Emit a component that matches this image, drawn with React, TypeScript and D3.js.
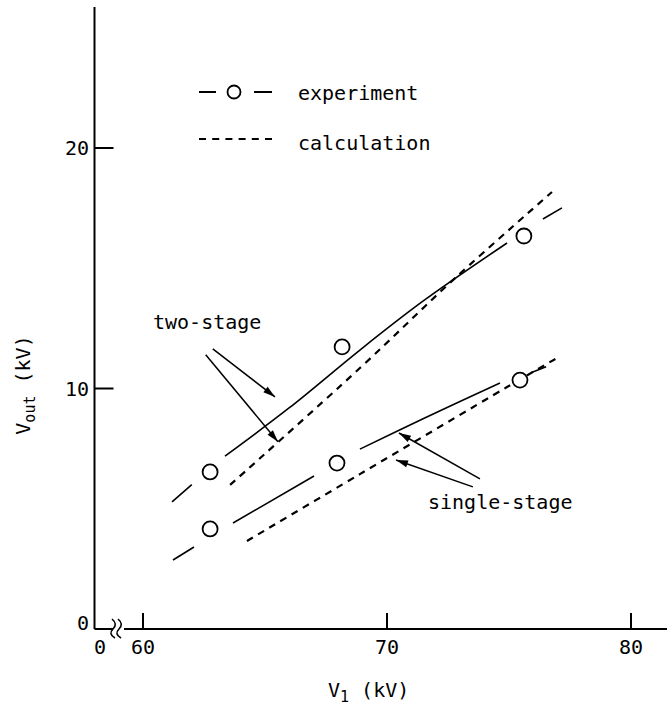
import React from "react";
import * as d3 from "d3";

// ---- data ----
const X_TICKS = [60, 70, 80];
const Y_TICKS = [0, 10, 20];
const X_ORIGIN_LABEL = "0";

// experiment points [V1 kV, Vout kV]
const TWO_STAGE_EXP: [number, number][] = [
  [62.75, 6.53],
  [68.16, 11.73],
  [75.61, 16.34],
];
const SINGLE_STAGE_EXP: [number, number][] = [
  [62.75, 4.16],
  [67.95, 6.9],
  [75.45, 10.35],
];

// experiment fit curves (drawn in pieces, broken around the circles)
const TWO_STAGE_FIT: [number, number][][] = [
  [[61.19, 5.29], [62.0, 6.0]],
  [[63.36, 7.19], [66.0, 9.2], [68.89, 11.6], [71.5, 13.65], [74.92, 16.05]],
  [[76.39, 17.05], [77.17, 17.51]],
];
const SINGLE_STAGE_FIT: [number, number][][] = [
  [[61.23, 2.87], [62.09, 3.41]],
  [[63.69, 4.41], [67.01, 6.36]],
  [[68.89, 7.48], [71.5, 8.75], [74.63, 10.23]],
  [[75.9, 10.65], [76.52, 10.9]],
];

// calculation curves
const TWO_STAGE_CALC: [number, number][] = [
  [63.57, 5.99],
  [68.89, 10.85],
  [72.79, 14.59],
  [76.76, 18.17],
];
const SINGLE_STAGE_CALC: [number, number][] = [
  [64.26, 3.66],
  [68.89, 6.44],
  [74.92, 10.06],
  [76.97, 11.27],
];

// annotation arrows: [from, to] in data units
const TWO_STAGE_ARROWS: [[number, number], [number, number]][] = [
  [[62.86, 11.65], [65.41, 9.65]],
  [[62.57, 11.4], [65.53, 7.79]],
];
const SINGLE_STAGE_ARROWS: [[number, number], [number, number]][] = [
  [[73.81, 6.24], [70.49, 8.15]],
  [[73.52, 5.91], [70.37, 7.03]],
];

const FONT = "'DejaVu Sans Mono', monospace";

export default function App() {
  const W = 667;
  const H = 709;
  const x = d3.scaleLinear().domain([60, 80]).range([143, 631]);
  const y = d3.scaleLinear().domain([0, 20]).range([629, 148]);
  const axisX = 94.5;
  const axisY = y(0);

  const line = d3
    .line<[number, number]>()
    .x((d) => x(d[0]))
    .y((d) => y(d[1]))
    .curve(d3.curveCatmullRom.alpha(0.5));

  const arrow = (a: [[number, number], [number, number]], i: number) => {
    const x1 = x(a[0][0]);
    const y1 = y(a[0][1]);
    const x2 = x(a[1][0]);
    const y2 = y(a[1][1]);
    const ang = Math.atan2(y2 - y1, x2 - x1);
    const L = 12;
    const hw = 3.5;
    const bx = x2 - L * Math.cos(ang);
    const by = y2 - L * Math.sin(ang);
    const px = -Math.sin(ang) * hw;
    const py = Math.cos(ang) * hw;
    return (
      <g key={i}>
        <line x1={x1} y1={y1} x2={x2} y2={y2} stroke="#000" strokeWidth={1.5} />
        <path
          d={`M${x2},${y2}L${bx + px},${by + py}L${bx - px},${by - py}Z`}
          fill="#000"
        />
      </g>
    );
  };

  const squiggle = (x0: number) =>
    `M${x0},${axisY - 10} Q${x0 + 6},${axisY - 5} ${x0 + 1},${axisY} T${x0 + 3},${axisY + 9}`;

  return (
    <svg
      width={W}
      height={H}
      style={{ position: "absolute", left: 0, top: 0, background: "#fff" }}
      fontFamily={FONT}
    >
      <rect width={W} height={H} fill="#fff" />
      {/* axes */}
      <line x1={axisX} y1={7} x2={axisX} y2={axisY} stroke="#000" strokeWidth={2} />
      <line x1={axisX} y1={axisY} x2={113} y2={axisY} stroke="#000" strokeWidth={2} />
      <line x1={124} y1={axisY} x2={W} y2={axisY} stroke="#000" strokeWidth={2} />
      <path d={squiggle(112)} fill="none" stroke="#000" strokeWidth={1.6} />
      <path d={squiggle(118)} fill="none" stroke="#000" strokeWidth={1.6} />

      {X_TICKS.map((t) => (
        <g key={"xt" + t}>
          <line x1={x(t)} y1={axisY} x2={x(t)} y2={axisY - 16} stroke="#000" strokeWidth={2} />
          <text x={x(t)} y={654} textAnchor="middle" fontSize={20}>
            {t}
          </text>
        </g>
      ))}
      <text x={100} y={654} textAnchor="middle" fontSize={20}>
        {X_ORIGIN_LABEL}
      </text>

      {Y_TICKS.map((t) => (
        <g key={"yt" + t}>
          {t !== 0 && (
            <line x1={axisX} y1={y(t)} x2={axisX + 19} y2={y(t)} stroke="#000" strokeWidth={2} />
          )}
          <text
            x={89}
            y={y(t) + (t === 0 ? 1 : 7)}
            textAnchor="end"
            fontSize={20}
          >
            {t}
          </text>
        </g>
      ))}

      {/* axis labels */}
      <text
        transform={`translate(30,385) rotate(-90)`}
        textAnchor="middle"
        fontSize={20}
      >
        V<tspan fontSize={15} dy={5}>out</tspan>
        <tspan dy={-5}> (kV)</tspan>
      </text>
      <text x={328} y={697} fontSize={20}>
        V<tspan fontSize={15} dy={5}>1</tspan>
        <tspan dy={-5}> (kV)</tspan>
      </text>

      {/* calculation curves */}
      {[TWO_STAGE_CALC, SINGLE_STAGE_CALC].map((c, i) => (
        <path
          key={"calc" + i}
          d={line(c) || ""}
          fill="none"
          stroke="#000"
          strokeWidth={2.2}
          strokeDasharray="7,6"
        />
      ))}

      {/* experiment fit pieces */}
      {[...TWO_STAGE_FIT, ...SINGLE_STAGE_FIT].map((s, i) => (
        <path key={"fit" + i} d={line(s) || ""} fill="none" stroke="#000" strokeWidth={1.6} />
      ))}

      {/* experiment points */}
      {[...TWO_STAGE_EXP, ...SINGLE_STAGE_EXP].map((p, i) => (
        <circle
          key={"pt" + i}
          cx={x(p[0])}
          cy={y(p[1])}
          r={7.5}
          fill="#fff"
          stroke="#000"
          strokeWidth={1.8}
        />
      ))}

      {/* annotations */}
      {TWO_STAGE_ARROWS.map(arrow)}
      {SINGLE_STAGE_ARROWS.map((a, i) => arrow(a, i + 10))}
      <text x={153} y={329} fontSize={20}>two-stage</text>
      <text x={428} y={509} fontSize={20}>single-stage</text>

      {/* legend */}
      <line x1={199} y1={92} x2={216} y2={92} stroke="#000" strokeWidth={2} />
      <circle cx={234} cy={92} r={6.5} fill="#fff" stroke="#000" strokeWidth={1.8} />
      <line x1={254} y1={92} x2={272} y2={92} stroke="#000" strokeWidth={2} />
      <text x={298} y={100} fontSize={20}>experiment</text>
      <line
        x1={199}
        y1={139}
        x2={272}
        y2={139}
        stroke="#000"
        strokeWidth={2}
        strokeDasharray="7,6.2"
      />
      <text x={298} y={150} fontSize={20}>calculation</text>
    </svg>
  );
}
